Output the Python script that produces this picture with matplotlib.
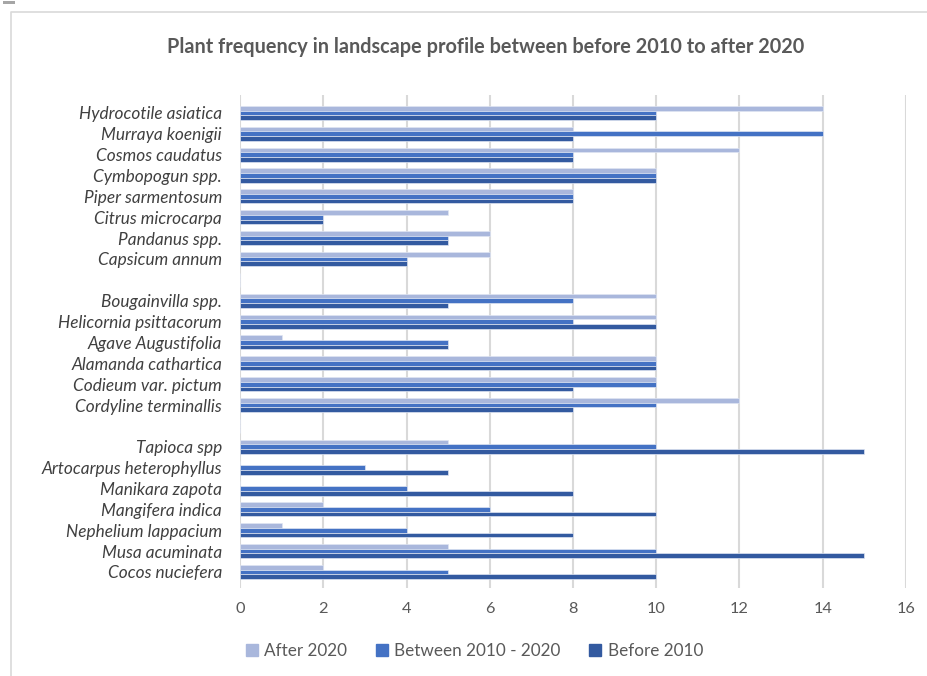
import numpy as np
import matplotlib.pyplot as plt
from matplotlib.patches import Rectangle
from matplotlib.lines import Line2D

# Categories top to bottom, "" marks the blank slot between groups
plants = [
    "Hydrocotile asiatica", "Murraya koenigii", "Cosmos caudatus",
    "Cymbopogun spp.", "Piper sarmentosum", "Citrus microcarpa",
    "Pandanus spp.", "Capsicum annum", "",
    "Bougainvilla spp.", "Helicornia psittacorum", "Agave Augustifolia",
    "Alamanda cathartica", "Codieum var. pictum", "Cordyline terminallis", "",
    "Tapioca spp", "Artocarpus heterophyllus", "Manikara zapota",
    "Mangifera indica", "Nephelium lappacium", "Musa acuminata",
    "Cocos nuciefera",
]
after_2020 = [14, 8, 12, 10, 8, 5, 6, 6, 0,
              10, 10, 1, 10, 10, 12, 0,
              5, 0, 0, 2, 1, 5, 2]
between_2010_2020 = [10, 14, 8, 10, 8, 2, 5, 4, 0,
                     8, 8, 5, 10, 10, 10, 0,
                     10, 3, 4, 6, 4, 10, 5]
before_2010 = [10, 8, 8, 10, 8, 2, 5, 4, 0,
               5, 10, 5, 10, 8, 8, 0,
               15, 5, 8, 10, 8, 15, 10]

series = [
    ("After 2020", after_2020, "#a9b7dc"),
    ("Between 2010 - 2020", between_2010_2020, "#4472c4"),
    ("Before 2010", before_2010, "#335aa0"),
]

W, H = 928, 676
fig = plt.figure(figsize=(W / 100, H / 100), dpi=100)
plt.rcParams["font.family"] = ["Lato", "DejaVu Sans"]
grey = "#595959"

ax = fig.add_axes([240 / W, 1 - 588 / H, (906 - 240) / W, (588 - 95) / H])

y = np.arange(len(plants))
h = 0.225
for i, (name, vals, col) in enumerate(series):
    ax.barh(y + (i - 1) * h, vals, height=h, color=col,
            edgecolor="#dfe5f2", linewidth=0.5, label=name, zorder=3)

ax.set_xlim(0, 16)
ax.set_ylim(22.77, -0.86)
ax.set_xticks(range(0, 17, 2))
ax.set_yticks(y)
ax.set_yticklabels(plants, fontsize=12.4, style="italic", color="#404040")
ax.tick_params(axis="x", labelsize=11.8, colors=grey, length=0, pad=10)
ax.tick_params(axis="y", length=0, pad=13)
ax.grid(axis="x", color="#d9d9d9", linewidth=1.5, zorder=0)
for s in ax.spines.values():
    s.set_visible(False)

fig.text(486 / W, 1 - 47 / H,
         "Plant frequency in landscape profile between before 2010 to after 2020",
         ha="center", va="center", fontsize=14.3, fontweight="bold", color=grey)

handles = [Line2D([], [], marker="s", linestyle="none", markersize=8,
                  markerfacecolor=c, markeredgecolor=c) for _, _, c in series]
fig.legend(handles, [n for n, _, _ in series], loc="center",
           bbox_to_anchor=(474 / W, 1 - 651 / H), ncol=3, frameon=False,
           fontsize=12.3, labelcolor=grey, handlelength=0.8,
           handletextpad=0.35, columnspacing=1.6)

# chart frame (top and left edges) and the small mark at top left
fig.add_artist(Line2D([11 / W, 11 / W, 1], [0, 1 - 12 / H, 1 - 12 / H],
                      color="#d9d9d9", linewidth=1.2))
fig.add_artist(Rectangle((3 / W, 1 - 4 / H), 12 / W, 3 / H,
                         color="#a6a6a6", linewidth=0))

fig.savefig("out.png", dpi=100)
